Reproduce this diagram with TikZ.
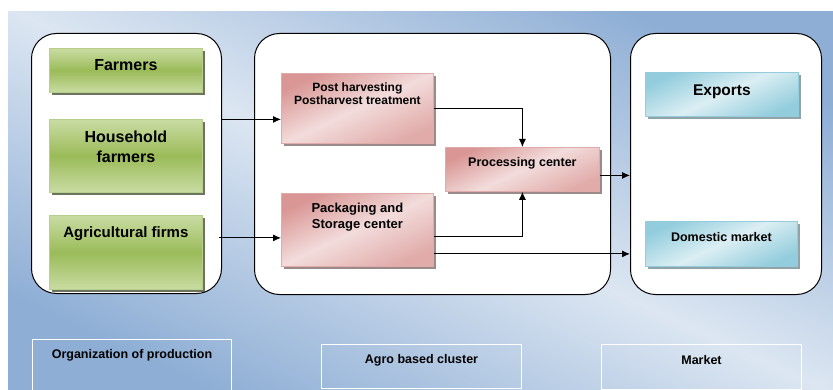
\documentclass[tikz,border=0pt]{standalone}
\usepackage{fontspec}
\setmainfont{Liberation Sans}
\usetikzlibrary{arrows.meta,positioning,shadows}
\definecolor{bgdark}{HTML}{8EAED5}
\definecolor{bglight}{HTML}{DCE6F2}
\definecolor{grdark}{HTML}{9BBB59}
\definecolor{grlight}{HTML}{C9DCA3}
\definecolor{grline}{HTML}{B7CF8A}
\definecolor{pkdark}{HTML}{D99694}
\definecolor{pklight}{HTML}{F2DCDB}
\definecolor{bldark}{HTML}{93CDDD}
\definecolor{bllight}{HTML}{DBEEF3}
\tikzset{
    group/.style={
    rectangle,rounded corners=25pt,draw=black,line width=1pt,fill=white,
    anchor=north west,inner sep=0pt
    },
    producer/.style={
    rectangle,draw=grline,line width=0.8pt,anchor=north west,inner xsep=0pt,inner ysep=0pt,
    top color=grlight,bottom color=grlight,middle color=grdark,
    drop shadow={shadow xshift=2.5pt,shadow yshift=-2.5pt,fill=black!70!grdark,opacity=0.7},
    font=\bfseries,align=center
    },
    cluster/.style={
    rectangle,draw=pkdark!80,line width=0.8pt,anchor=north west,inner xsep=0pt,inner ysep=0pt,
    top color=pkdark,bottom color=pkdark!80,middle color=pklight,shading angle=25,
    drop shadow={shadow xshift=2.5pt,shadow yshift=-2.5pt,fill=black!60!pkdark,opacity=0.6},
    font=\bfseries,align=center
    },
    market/.style={
    rectangle,draw=bldark,line width=0.8pt,anchor=north west,inner xsep=0pt,inner ysep=0pt,
    top color=bldark,bottom color=bldark,middle color=bllight,shading angle=25,
    drop shadow={shadow xshift=2.5pt,shadow yshift=-2.5pt,fill=black!50!bldark,opacity=0.6},
    font=\bfseries,align=center
    },
    tag/.style={
    rectangle,draw=white,line width=1pt,anchor=north west,inner xsep=0pt,inner ysep=0pt,
    font=\bfseries\fontsize{12.5}{14}\selectfont
    },
    flow/.style={-{Latex[length=8pt,width=7pt]},line width=0.9pt,draw=black},
}

\begin{document}
\begin{tikzpicture}[x=1pt,y=-1pt]
  \useasboundingbox (0,0) rectangle (833,390);
  \shade[top color=bgdark,bottom color=bgdark,middle color=bglight,shading angle=-25]
    (8,12) rectangle (833,390);

  \node[group,minimum width=190pt,minimum height=260pt] (prodgroup) at (31,33) {};
  \node[group,minimum width=356pt,minimum height=261pt] (clustgroup) at (254,33) {};
  \node[group,minimum width=191pt,minimum height=261pt] (mktgroup) at (630,33) {};

  \node[producer,minimum width=153pt,text height=22pt,text depth=22pt,
        font=\bfseries\fontsize{16}{19}\selectfont] (farmers) at (49,48) {Farmers};
  \node[producer,minimum width=153pt,text height=43pt,text depth=30pt,
        font=\bfseries\fontsize{16}{19.5}\selectfont] (household) at (49,119) {Household\\farmers};
  \node[producer,minimum width=153pt,text height=22pt,text depth=52pt,
        font=\bfseries\fontsize{15}{18}\selectfont] (agri) at (49,215) {Agricultural firms};

  \node[cluster,minimum width=152pt,text height=31pt,text depth=39pt,
        font=\bfseries\fontsize{12}{12.5}\selectfont] (post) at (281,73) {Post harvesting\\Postharvest treatment};
  \node[cluster,minimum width=152pt,text height=35pt,text depth=38pt,
        font=\bfseries\fontsize{13}{16}\selectfont] (pack) at (281,193) {Packaging and\\Storage center};
  \node[cluster,minimum width=154pt,text height=19pt,text depth=25pt,
        font=\bfseries\fontsize{12.5}{15}\selectfont] (proc) at (445,147) {Processing center};

  \node[market,minimum width=153pt,text height=23pt,text depth=21pt,
        font=\bfseries\fontsize{15.5}{18}\selectfont] (exports) at (645,72) {Exports};
  \node[market,minimum width=152pt,text height=20pt,text depth=25pt,
        font=\bfseries\fontsize{12.5}{15}\selectfont] (domestic) at (645,221) {Domestic market};

  \node[tag,minimum width=199pt,text height=19pt,text depth=41pt] (orgtag) at (32,339) {Organization of production};
  \node[tag,minimum width=200pt,text height=19pt,text depth=25pt] (agrotag) at (321,344) {Agro based cluster};
  \node[tag,minimum width=200pt,text height=20pt,text depth=25pt] (mkttag) at (601,344) {Market};

  % connectors
  \coordinate (postin) at ([yshift=-11pt]post.west);
  \coordinate (packin) at ([yshift=-8pt]pack.west);
  \coordinate (packup) at ([yshift=-7pt]pack.east);
  \coordinate (procout) at ([yshift=-6pt]proc.east);
  \coordinate (packout) at ([yshift=-24pt]pack.east);
  \draw[flow] (prodgroup.east |- postin) -- (postin);
  \draw[flow] ([xshift=-3pt]prodgroup.east |- packin) -- (packin);
  \draw[flow] (post.east) -| (proc.north);
  \draw[flow] (packup) -| (proc.south);
  \draw[flow] (procout) -- (mktgroup.west |- procout);
  \draw[flow] (packout) -- (mktgroup.west |- packout);
\end{tikzpicture}
\end{document}
